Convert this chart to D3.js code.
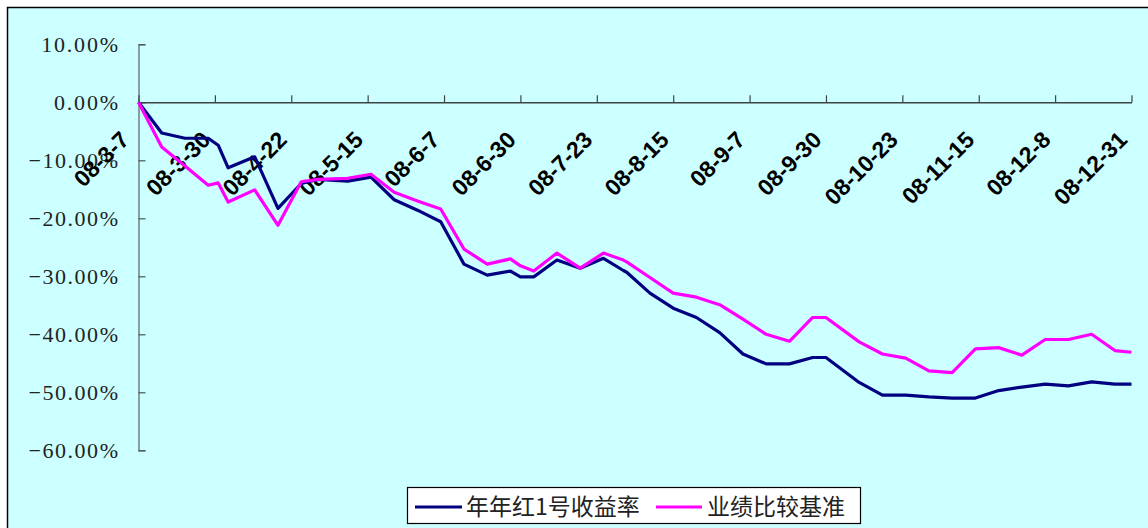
<!DOCTYPE html>
<html>
<head>
<meta charset="utf-8">
<script src="https://cdn.jsdelivr.net/npm/d3@7"></script>
<style>
  html, body { margin: 0; padding: 0; background: #ffffff; }
  svg { display: block; }
</style>
</head>
<body>
<svg id="chart" width="1148" height="528"></svg>
<script>
// ---- data ----
const dates = [
  "2008-03-07","2008-03-14","2008-03-21","2008-03-28","2008-03-31","2008-04-03",
  "2008-04-11","2008-04-18","2008-04-25","2008-04-30","2008-05-09","2008-05-16",
  "2008-05-23","2008-05-30","2008-06-06","2008-06-13","2008-06-20","2008-06-27",
  "2008-06-30","2008-07-04","2008-07-11","2008-07-18","2008-07-25","2008-07-31",
  "2008-08-01","2008-08-08","2008-08-15","2008-08-22","2008-08-29","2008-09-05",
  "2008-09-12","2008-09-19","2008-09-26","2008-09-30","2008-10-10","2008-10-17",
  "2008-10-24","2008-10-31","2008-11-07","2008-11-14","2008-11-21","2008-11-28",
  "2008-12-05","2008-12-12","2008-12-19","2008-12-26","2008-12-31"
];
// 年年红1号收益率 (%)
const fundReturn = [
  0.0, -5.3, -6.2, -6.2, -7.4, -11.3,
  -9.4, -18.3, -14.0, -13.3, -13.6, -12.9,
  -16.8, -18.6, -20.6, -27.9, -29.8, -29.1,
  -30.1, -30.1, -27.2, -28.6, -26.9, -29.0,
  -29.3, -32.9, -35.5, -37.1, -39.7, -43.4,
  -45.1, -45.1, -44.0, -44.0, -48.3, -50.5,
  -50.5, -50.8, -51.0, -51.0, -49.7, -49.1,
  -48.6, -48.9, -48.2, -48.6, -48.6
];
// 业绩比较基准 (%)
const benchmark = [
  0.0, -7.7, -11.0, -14.3, -13.9, -17.2,
  -15.1, -21.2, -13.7, -13.3, -13.1, -12.4,
  -15.5, -17.0, -18.4, -25.3, -27.9, -27.0,
  -28.2, -29.1, -26.0, -28.6, -26.0, -27.2,
  -27.5, -30.2, -32.9, -33.6, -34.9, -37.4,
  -40.0, -41.2, -37.1, -37.1, -41.3, -43.4,
  -44.1, -46.3, -46.6, -42.5, -42.3, -43.6,
  -40.9, -40.9, -40.0, -42.8, -43.1
];
const seriesNames = ["年年红1号收益率", "业绩比较基准"];
const xTickLabels = ["08-3-7","08-3-30","08-4-22","08-5-15","08-6-7","08-6-30","08-7-23",
  "08-8-15","08-9-7","08-9-30","08-10-23","08-11-15","08-12-8","08-12-31"];
const yTickValues = [10, 0, -10, -20, -30, -40, -50, -60];

// ---- drawing ----
const svg = d3.select("#chart");
const W = 1148, H = 528;

svg.append("rect").attr("x", 0).attr("y", 0).attr("width", W).attr("height", H).attr("fill", "#ffffff");
svg.append("rect").attr("x", 7.5).attr("y", 7.5).attr("width", W + 20).attr("height", H + 20)
  .attr("fill", "#CCFFFF").attr("stroke", "#000000").attr("stroke-width", 1.5);

const parseDate = d3.timeParse("%Y-%m-%d");
const tickDate = s => { const p = s.split("-"); return new Date(2000 + (+p[0]), (+p[1]) - 1, +p[2]); };

const x = d3.scaleTime()
  .domain([parseDate("2008-03-07"), parseDate("2008-12-31")])
  .range([138.5, 1131.5]);
const y = d3.scaleLinear().domain([-60, 10]).range([450.3, 44.3]);

// y axis
const yAxis = d3.axisRight(y).tickValues(yTickValues).tickSize(7).tickFormat("");
const gy = svg.append("g").attr("transform", `translate(${x.range()[0]},0)`).call(yAxis);
gy.select(".domain").attr("stroke", "#6d8080").attr("stroke-width", 1.5);
gy.selectAll(".tick line").attr("stroke", "#4a5656").attr("stroke-width", 1.2);

// y labels
svg.append("g").selectAll("text").data(yTickValues).join("text")
  .attr("x", 118).attr("y", d => y(d))
  .attr("dy", "0.36em")
  .attr("text-anchor", "end")
  .attr("font-family", "'Liberation Serif', 'DejaVu Serif', serif")
  .attr("font-size", 22)
  .attr("fill", "#222222")
  .attr("textLength", d => (d3.format(".2f")(d) + "%").length * 12.8)
  .attr("lengthAdjust", "spacing")
  .text(d => (d < 0 ? "\u2212" + d3.format(".2f")(-d) : d3.format(".2f")(d)) + "%");

// x axis at 0%
const xTickDates = xTickLabels.map(tickDate);
const xAxis = d3.axisTop(x).tickValues(xTickDates).tickSize(7).tickSizeOuter(0).tickFormat("");
const gx = svg.append("g").attr("transform", `translate(0,${y(0)})`).call(xAxis);
gx.select(".domain").attr("stroke", "#3c4444").attr("stroke-width", 1.5);
gx.selectAll(".tick line").attr("stroke", "#3c4444").attr("stroke-width", 1.2);

// x labels, rotated
svg.append("g").selectAll("text").data(xTickLabels).join("text")
  .attr("transform", (d, i) => `translate(${x(tickDate(d)) - 3 - (i === 0 ? 5 : 0)},${y(0) + 39}) rotate(-45)`)
  .attr("text-anchor", "end")
  .attr("font-family", "'Liberation Sans', Arial, sans-serif")
  .attr("font-weight", "bold")
  .attr("font-size", 23)
  .attr("fill", "#000000")
  .text(d => d);

// lines
const rowsA = dates.map((d, i) => ({ date: parseDate(d), v: fundReturn[i] }));
const rowsB = dates.map((d, i) => ({ date: parseDate(d), v: benchmark[i] }));
const line = d3.line().x(d => x(d.date)).y(d => y(d.v));
const colors = ["#000080", "#FF00FF"];

svg.append("path").datum(rowsA).attr("d", line)
  .attr("fill", "none").attr("stroke", colors[0]).attr("stroke-width", 3.2).attr("stroke-linejoin", "round");
svg.append("path").datum(rowsB).attr("d", line)
  .attr("fill", "none").attr("stroke", colors[1]).attr("stroke-width", 3.2).attr("stroke-linejoin", "round");

// legend
const lg = svg.append("g");
lg.append("rect").attr("x", 407.5).attr("y", 487.5).attr("width", 453).attr("height", 36)
  .attr("fill", "#ffffff").attr("stroke", "#000000").attr("stroke-width", 1.2);
const legendItems = [
  { name: seriesNames[0], color: colors[0], x1: 415, x2: 462, tx: 466 },
  { name: seriesNames[1], color: colors[1], x1: 656, x2: 702, tx: 707 }
];
legendItems.forEach(it => {
  lg.append("line").attr("x1", it.x1).attr("x2", it.x2).attr("y1", 507).attr("y2", 507)
    .attr("stroke", it.color).attr("stroke-width", 3.2);
  lg.append("text").attr("x", it.tx).attr("y", 507).attr("dy", "0.36em")
    .attr("font-family", "'Noto Sans CJK SC', 'Noto Sans', sans-serif")
    .attr("font-size", 23)
    .attr("fill", "#222222")
    .text(it.name);
});
</script>
</body>
</html>
